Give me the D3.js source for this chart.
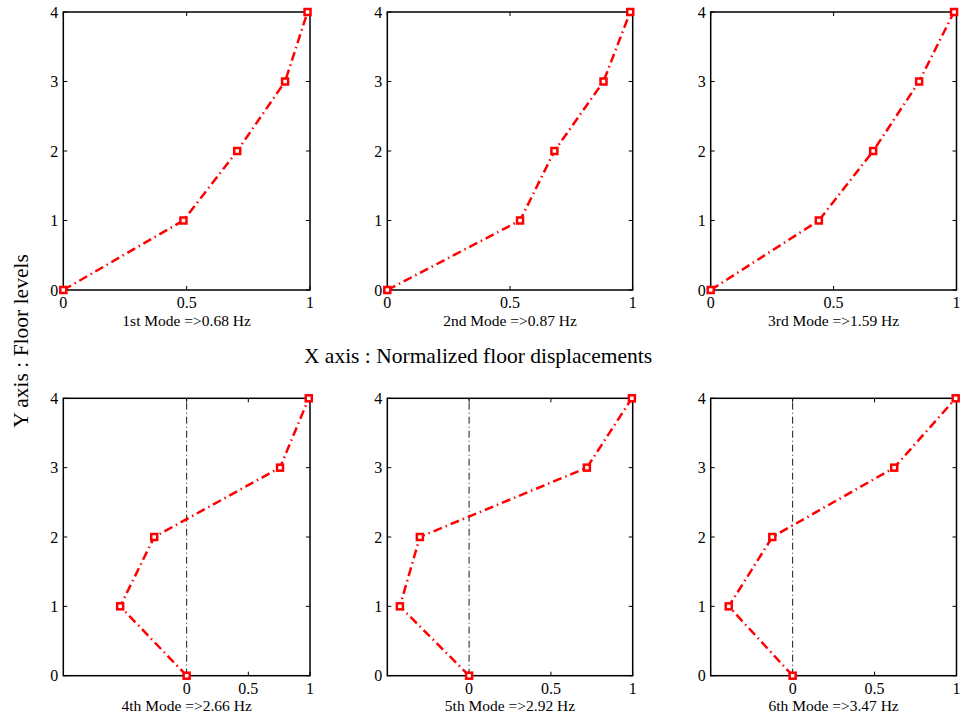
<!DOCTYPE html>
<html>
<head>
<meta charset="utf-8">
<script src="https://cdn.jsdelivr.net/npm/d3@7"></script>
<style>
  body { margin: 0; background: #fff; }
  svg { font-family: "Liberation Serif", "Times New Roman", serif; }
</style>
</head>
<body>
<svg id="chart" width="968" height="717"></svg>
<script>
// data
const floors = [0, 1, 2, 3, 4];
const modeNames = ["1st Mode =>0.68 Hz", "2nd Mode =>0.87 Hz", "3rd Mode =>1.59 Hz",
                   "4th Mode =>2.66 Hz", "5th Mode =>2.92 Hz", "6th Mode =>3.47 Hz"];
const mode1 = [0, 0.487, 0.705, 0.899, 0.99];
const mode2 = [0, 0.541, 0.681, 0.881, 0.99];
const mode3 = [0, 0.440, 0.661, 0.848, 0.99];
const mode4 = [0, -0.539, -0.263, 0.757, 0.99];
const mode5 = [0, -0.423, -0.301, 0.720, 0.995];
const mode6 = [0, -0.390, -0.124, 0.620, 0.995];
const modes = [mode1, mode2, mode3, mode4, mode5, mode6];
const xDomains = [[0, 1], [0, 1], [0, 1], [-1, 1], [-0.5, 1], [-0.5, 1]];
const xTickVals = [0, 0.5, 1];
const yTickVals = [0, 1, 2, 3, 4];

// layout
const cols = [[63.3, 310], [387.3, 632.7], [710.7, 956.5]];
const rows = [[290, 12], [675.7, 398.3]];
const tickLen = 4;

const chart = d3.select("#chart");

modes.forEach(function(shape, i) {
  const c = cols[i % 3], r = rows[Math.floor(i / 3)];
  const x = d3.scaleLinear().domain(xDomains[i]).range(c);
  const y = d3.scaleLinear().domain([0, 4]).range(r);
  const g = chart.append("g");

  // box
  g.append("rect")
    .attr("x", c[0]).attr("y", r[1])
    .attr("width", c[1] - c[0]).attr("height", r[0] - r[1])
    .attr("fill", "none").attr("stroke", "#000").attr("stroke-width", 1.5);

  // inward ticks on all sides
  xTickVals.forEach(function(t) {
    g.append("line").attr("x1", x(t)).attr("x2", x(t))
      .attr("y1", r[0]).attr("y2", r[0] - tickLen).attr("stroke", "#000");
    g.append("line").attr("x1", x(t)).attr("x2", x(t))
      .attr("y1", r[1]).attr("y2", r[1] + tickLen).attr("stroke", "#000");
    g.append("text").attr("x", x(t)).attr("y", r[0] + 18)
      .attr("text-anchor", "middle").attr("font-size", 16).text(t);
  });
  yTickVals.forEach(function(t) {
    g.append("line").attr("x1", c[0]).attr("x2", c[0] + tickLen)
      .attr("y1", y(t)).attr("y2", y(t)).attr("stroke", "#000");
    g.append("line").attr("x1", c[1]).attr("x2", c[1] - tickLen)
      .attr("y1", y(t)).attr("y2", y(t)).attr("stroke", "#000");
    g.append("text").attr("x", c[0] - 5).attr("y", y(t) + 5.5)
      .attr("text-anchor", "end").attr("font-size", 16).text(t);
  });

  // zero line on the lower row
  if (xDomains[i][0] < 0) {
    g.append("line").attr("x1", x(0)).attr("x2", x(0))
      .attr("y1", r[0]).attr("y2", r[1])
      .attr("stroke", "#000").attr("stroke-width", 0.9)
      .attr("stroke-dasharray", "7,3,1,3");
  }

  const pts = shape.map((v, k) => [v, floors[k]]);
  g.append("path")
    .attr("d", d3.line().x(d => x(d[0])).y(d => y(d[1]))(pts))
    .attr("fill", "none").attr("stroke", "#ff0000").attr("stroke-width", 2.5)
    .attr("stroke-dasharray", "9,4,1.5,4");

  g.selectAll("rect.mk").data(pts).enter().append("rect")
    .attr("class", "mk")
    .attr("x", d => x(d[0]) - 3).attr("y", d => y(d[1]) - 3)
    .attr("width", 6).attr("height", 6)
    .attr("fill", "#fff").attr("stroke", "#ff0000").attr("stroke-width", 2.5);

  g.append("text").attr("x", (c[0] + c[1]) / 2).attr("y", r[0] + 35.5)
    .attr("text-anchor", "middle").attr("font-size", 15.5).text(modeNames[i]);
});

chart.append("text").attr("x", 478).attr("y", 363)
  .attr("text-anchor", "middle").attr("font-size", 21.5)
  .text("X axis : Normalized floor displacements");

chart.append("text")
  .attr("transform", "translate(28,341) rotate(-90)")
  .attr("text-anchor", "middle").attr("font-size", 21.5)
  .text("Y axis : Floor levels");
</script>
</body>
</html>
